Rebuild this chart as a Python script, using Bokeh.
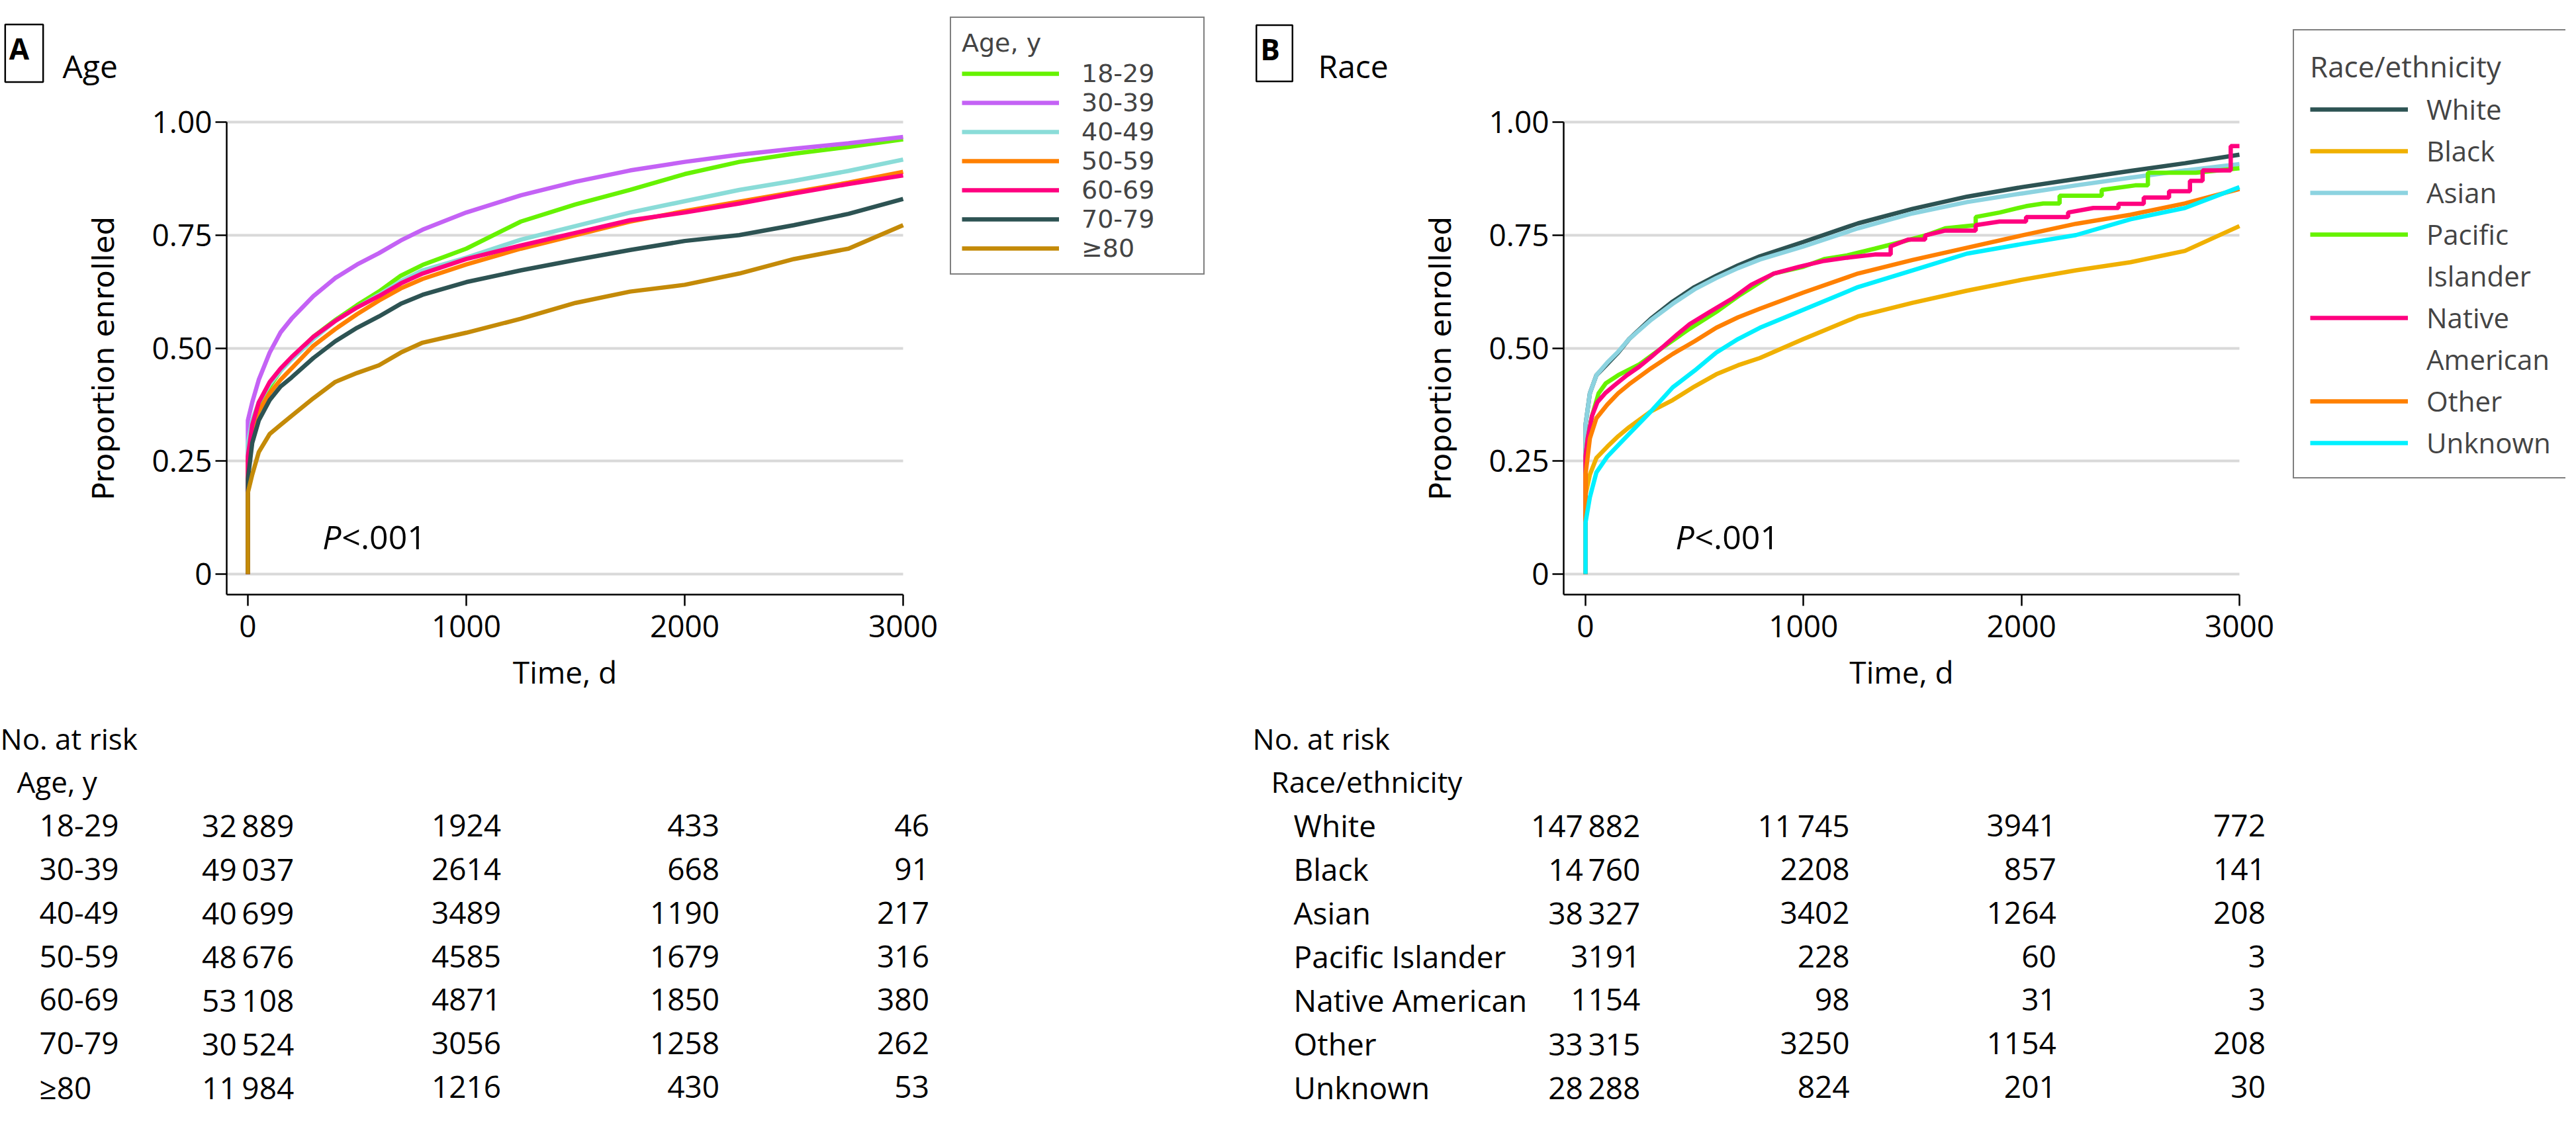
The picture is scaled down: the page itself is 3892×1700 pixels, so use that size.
from bokeh.plotting import figure
from bokeh.models import (Range1d, FixedTicker, Legend, LegendItem, Label,
                          ColumnDataSource, NumeralTickFormatter, Grid)
from bokeh.layouts import row
from bokeh.embed import file_html
from bokeh.resources import INLINE
from bokeh.core.properties import value

# ===================== DATA =====================
time_days = [0, 0, 20, 50, 100, 150, 200, 300, 400, 500, 600, 700, 800,
             1000, 1250, 1500, 1750, 2000, 2250, 2500, 2750, 3000]

age_labels = ["18-29", "30-39", "40-49", "50-59", "60-69", "70-79", "\u226580"]
enr_18_29 = [0, .27, .33, .375, .415, .45, .478, .525, .562, .595, .625, .66, .684,
             .72, .78, .818, .85, .885, .912, .93, .945, .962]
enr_30_39 = [0, .34, .38, .43, .49, .535, .565, .615, .655, .685, .71, .738, .762,
             .80, .838, .868, .893, .912, .928, .941, .953, .967]
enr_40_49 = [0, .29, .34, .38, .42, .45, .475, .52, .56, .59, .618, .648, .672,
             .70, .74, .77, .80, .825, .85, .87, .892, .917]
enr_50_59 = [0, .25, .31, .36, .40, .43, .455, .505, .542, .575, .605, .632, .653,
             .685, .72, .75, .78, .803, .824, .845, .866, .89]
enr_60_69 = [0, .26, .33, .38, .425, .455, .48, .525, .56, .59, .615, .643, .665,
             .697, .727, .755, .783, .80, .82, .842, .863, .882]
enr_70_79 = [0, .21, .29, .34, .385, .415, .435, .478, .515, .545, .57, .598, .618,
             .646, .672, .695, .717, .737, .75, .772, .797, .83]
enr_80_up = [0, .18, .22, .27, .31, .33, .35, .389, .425, .445, .462, .49, .512,
             .534, .565, .60, .625, .64, .665, .697, .72, .772]

race_labels = ["White", "Black", "Asian", "Pacific Islander", "Native American", "Other", "Unknown"]
enr_white = [0, .33, .40, .44, .465, .49, .52, .565, .603, .635, .66, .683, .703,
             .735, .776, .808, .835, .856, .874, .892, .909, .928]
enr_black = [0, .175, .22, .257, .282, .305, .325, .36, .385, .415, .442, .462, .478,
             .52, .57, .60, .627, .651, .672, .69, .715, .77]
enr_asian = [0, .33, .40, .44, .468, .492, .52, .562, .598, .63, .655, .677, .696,
             .725, .765, .798, .823, .842, .86, .877, .893, .907]
enr_other = [0, .22, .30, .345, .375, .40, .42, .455, .487, .515, .545, .568, .587,
             .623, .665, .695, .722, .749, .775, .795, .82, .852]
enr_unknown = [0, .114, .17, .225, .26, .285, .31, .36, .413, .45, .49, .52, .545,
               .585, .635, .672, .709, .73, .75, .785, .81, .856]
pacific_t = [0, 0, 10, 30, 60, 93, 150, 247, 350, 478, 600, 710, 864, 1000, 1095, 1200,
             1327, 1450, 1558, 1650, 1790, 1790, 1900, 2021, 2100, 2175, 2175, 2368, 2368,
             2522, 2580, 2580, 2800, 3000]
pacific_y = [0, .26, .30, .35, .40, .422, .44, .464, .50, .543, .58, .618, .665, .68, .697, .705,
             .72, .735, .749, .765, .772, .79, .80, .814, .82, .82, .837, .837, .85,
             .86, .86, .888, .888, .898]
native_t = [0, 0, 10, 30, 54, 90, 131, 190, 247, 300, 363, 420, 478, 570, 671, 760, 864, 980,
            1095, 1200, 1327, 1400, 1400, 1480, 1558, 1558, 1650, 1790, 1790, 1900, 2021,
            2021, 2214, 2214, 2330, 2445, 2445, 2561, 2561, 2677, 2677, 2773, 2773, 2831,
            2831, 2960, 2960, 3000]
native_y = [0, .26, .30, .35, .38, .40, .417, .44, .459, .48, .506, .53, .553, .58, .609, .64,
            .665, .68, .693, .70, .707, .707, .725, .74, .74, .749, .76, .76, .772, .78, .78,
            .79, .79, .80, .81, .81, .819, .819, .833, .833, .847, .847, .87, .87,
            .893, .893, .947, .947]

risk_times = [0, 1000, 2000, 3000]
risk_age = [
    [32889, 1924, 433, 46],
    [49037, 2614, 668, 91],
    [40699, 3489, 1190, 217],
    [48676, 4585, 1679, 316],
    [53108, 4871, 1850, 380],
    [30524, 3056, 1258, 262],
    [11984, 1216, 430, 53],
]
risk_race = [
    [147882, 11745, 3941, 772],
    [14760, 2208, 857, 141],
    [38327, 3402, 1264, 208],
    [3191, 228, 60, 3],
    [1154, 98, 31, 3],
    [33315, 3250, 1154, 208],
    [28288, 824, 201, 30],
]
y_ticks = [0, 0.25, 0.5, 0.75, 1.0]
y_tick_text = {0.0: "0", 0.25: "0.25", 0.5: "0.50", 0.75: "0.75", 1.0: "1.00"}
x_ticks = [0, 1000, 2000, 3000]

# ===================== STYLE / LAYOUT =====================
AGE_COLORS = ["#66F200", "#C462F5", "#8ADCD8", "#FF8000", "#FF007F", "#2D5353", "#C48A08"]
RACE_COLORS = {"White": "#2D5353", "Black": "#F0B000", "Asian": "#8CD3E0",
               "Pacific Islander": "#66F200", "Native American": "#FF007F",
               "Other": "#FF8000", "Unknown": "#00F0FF"}
FONT = "Open Sans"
LW = 6.5
PAGE_TOP = 8            # screenshot y of the figures' top edge
FIG_H = 1684
FIG_BOTTOM = PAGE_TOP + FIG_H
Y0_SY = 875             # screenshot y of proportion 0
Y1_SY = 192             # screenshot y of proportion 1
PPU = Y0_SY - Y1_SY
Y_BOTTOM = -(906 - Y0_SY) / PPU
ROW0_SY = 1123          # baseline of "No. at risk"
ROW_PITCH = 65.9


def fmt(n):
    return f"{n:,}".replace(",", "\u2009") if n >= 10000 else str(n)


def make_panel(width, fig_left, axis_sx, t0_sx, t3k_sx):
    k = (t3k_sx - t0_sx) / 3000.0
    t0_l = t0_sx - fig_left
    x_start, x_end = -t0_l / k, (width - t0_l) / k
    xmin = -(t0_sx - axis_sx) / k
    p = figure(width=width, height=FIG_H,
               x_range=Range1d(x_start, x_end),
               y_range=Range1d((Y0_SY - FIG_BOTTOM) / PPU, (Y0_SY - PAGE_TOP) / PPU),
               min_border=0, output_backend="svg", toolbar_location=None)
    p.outline_line_color = None
    p.xgrid.visible = False
    p.ygrid.ticker = FixedTicker(ticks=y_ticks)
    p.ygrid.grid_line_color = "#D9D9D9"
    p.ygrid.grid_line_width = 4
    if "cross_bounds" in Grid.properties():
        p.ygrid.cross_bounds = (xmin, 3000)
    else:
        p.ygrid.visible = False
        p.segment(x0=[xmin] * len(y_ticks), x1=[3000] * len(y_ticks), y0=y_ticks, y1=y_ticks,
                  line_color="#D9D9D9", line_width=4)
    p.yaxis.ticker = FixedTicker(ticks=y_ticks)
    p.yaxis.formatter = NumeralTickFormatter(format="0.00")
    p.yaxis.major_label_overrides = y_tick_text
    p.xaxis.ticker = FixedTicker(ticks=x_ticks)
    p.yaxis.fixed_location = xmin
    p.yaxis.bounds = (Y_BOTTOM, 1.0)
    p.xaxis.fixed_location = Y_BOTTOM
    p.xaxis.bounds = (xmin, 3000)
    for ax in (p.xaxis[0], p.yaxis[0]):
        ax.axis_line_width = 2.5
        ax.axis_line_color = "black"
        ax.major_tick_line_width = 2.5
        ax.major_tick_line_color = "black"
        ax.major_tick_in = 0
        ax.major_tick_out = 17
        ax.minor_tick_line_color = None
        ax.major_label_text_font = FONT
        ax.major_label_text_font_size = "46px"
        ax.major_label_text_color = "black"
        ax.axis_label_text_font_style = "normal"
        ax.axis_label_text_color = "black"
    p.yaxis.major_label_standoff = 5
    p.xaxis.major_label_standoff = 14
    p.yaxis.axis_label = "Proportion enrolled"
    p.yaxis.axis_label_text_font = "DejaVu Sans"
    p.yaxis.axis_label_text_font_size = "45px"
    p.yaxis.axis_label_standoff = 44
    p.xaxis.axis_label = "Time, d"
    p.xaxis.axis_label_text_font = FONT
    p.xaxis.axis_label_text_font_size = "46px"
    p.xaxis.axis_label_standoff = 18
    p.extra_y_ranges = {"tbl": Range1d((FIG_BOTTOM - ROW0_SY) / ROW_PITCH,
                                       (PAGE_TOP - ROW0_SY) / ROW_PITCH)}
    return p, x_start


def add_table(p, x_start, header2, row_labels, counts, offs):
    hs = ColumnDataSource(dict(x=[x_start, x_start], y=[0, 1], text=["No. at risk", header2],
                               xo=[offs[0], offs[1]]))
    p.text(x="x", y="y", text="text", x_offset="xo", source=hs, y_range_name="tbl",
           text_font=value(FONT), text_font_size="44px", text_color="black",
           text_align="left", text_baseline="alphabetic")
    ls = ColumnDataSource(dict(x=[x_start] * len(row_labels),
                               y=list(range(2, 2 + len(row_labels))), text=row_labels))
    p.text(x="x", y="y", text="text", x_offset=offs[2], source=ls, y_range_name="tbl",
           text_font=value(FONT), text_font_size="46px", text_color="black",
           text_align="left", text_baseline="alphabetic")
    xs, ys, txt, xo = [], [], [], []
    for ci, tm in enumerate(risk_times):
        col = [fmt(r[ci]) for r in counts]
        widest = max(sum(1 for ch in s if ch.isdigit()) * 26.3 + s.count("\u2009") * 8
                     for s in col)
        for ri, s in enumerate(col):
            xs.append(tm)
            ys.append(2 + ri)
            txt.append(s)
            xo.append(widest / 2.0)
    ns = ColumnDataSource(dict(x=xs, y=ys, text=txt, xo=xo))
    p.text(x="x", y="y", text="text", x_offset="xo", source=ns, y_range_name="tbl",
           text_font=value(FONT), text_font_size="46px", text_color="black",
           text_align="right", text_baseline="alphabetic")


def panel_tag(p, fig_left, letter, word, box_cx, word_sx, pad_h):
    p.add_layout(Label(x=box_cx - fig_left, y=FIG_BOTTOM - 88, x_units="screen", y_units="screen",
                       text=letter, text_font=FONT, text_font_size="44px",
                       text_font_style="bold", text_align="center", text_baseline="middle",
                       text_color="black", border_line_color="black", border_line_width=2.5,
                       padding=(6, pad_h, 6, pad_h)))
    p.add_layout(Label(x=word_sx - fig_left, y=FIG_BOTTOM - 107, x_units="screen",
                       y_units="screen", text=word, text_font=FONT, text_font_size="48px",
                       text_align="left", text_baseline="alphabetic", text_color="black"))


def p_value(p, x):
    p.add_layout(Label(x=x, y=0.083, text="P", text_font=FONT, text_font_size="50px",
                       text_font_style="italic", text_baseline="alphabetic", text_color="black"))
    p.add_layout(Label(x=x, y=0.083, x_offset=29, text="<.001", text_font=FONT,
                       text_font_size="50px", text_baseline="alphabetic", text_color="black"))


# ---------------- Panel A ----------------
A_LEFT = 8
pA, xsA = make_panel(1892, A_LEFT, 350, 382, 1372)
age_series = [enr_18_29, enr_30_39, enr_40_49, enr_50_59, enr_60_69, enr_70_79, enr_80_up]
itemsA = []
for lab, ys, c in zip(age_labels, age_series, AGE_COLORS):
    r = pA.line(time_days, ys, line_color=c, line_width=LW)
    itemsA.append(LegendItem(label=lab, renderers=[r]))
legA = Legend(items=itemsA, location=(1443 - A_LEFT, FIG_BOTTOM - 423), title="Age, y",
              title_text_font="DejaVu Sans", title_text_font_size="38px",
              title_text_font_style="normal", title_standoff=2,
              label_text_font="DejaVu Sans", label_text_font_size="38px",
              glyph_width=147, glyph_height=20, label_standoff=34, label_width=168,
              label_height=20, spacing=0, padding=16, margin=0,
              border_line_color="black", border_line_width=2.5,
              background_fill_color="white", background_fill_alpha=1.0)
pA.add_layout(legA)
panel_tag(pA, A_LEFT, "A", "Age", 44, 102, 21)
p_value(pA, 342)
add_table(pA, xsA, "Age, y", age_labels, risk_age, (0, 25, 59))

# ---------------- Panel B ----------------
B_LEFT = 1900
pB, xsB = make_panel(1984, B_LEFT, 2370, 2403, 3391)
rend = {}
smooth = {"White": enr_white, "Black": enr_black, "Asian": enr_asian}
for lab in ["White", "Black", "Asian"]:
    rend[lab] = pB.line(time_days, smooth[lab], line_color=RACE_COLORS[lab], line_width=LW)
rend["Pacific Islander"] = pB.line(pacific_t, pacific_y,
                                   line_color=RACE_COLORS["Pacific Islander"], line_width=LW)
rend["Native American"] = pB.line(native_t, native_y,
                                  line_color=RACE_COLORS["Native American"], line_width=LW)
rend["Other"] = pB.line(time_days, enr_other, line_color=RACE_COLORS["Other"], line_width=LW)
rend["Unknown"] = pB.line(time_days, enr_unknown, line_color=RACE_COLORS["Unknown"], line_width=LW)
blank = pB.line(x=[], y=[], line_alpha=0)
itemsB = []
for lab in race_labels:
    parts = lab.split(" ")
    itemsB.append(LegendItem(label=parts[0], renderers=[rend[lab]]))
    for extra in parts[1:]:
        itemsB.append(LegendItem(label=extra, renderers=[blank]))
legB = Legend(items=itemsB, location=(3472 - B_LEFT, FIG_BOTTOM - 731), title="Race/ethnicity",
              title_text_font=FONT, title_text_font_size="44px",
              title_text_font_style="normal", title_standoff=6,
              label_text_font=FONT, label_text_font_size="42px",
              glyph_width=148, glyph_height=20, label_standoff=28, label_width=196,
              label_height=20, spacing=6, padding=24, margin=0,
              border_line_color="black", border_line_width=2.5,
              background_fill_color="white", background_fill_alpha=1.0)
pB.add_layout(legB)
panel_tag(pB, B_LEFT, "B", "Race", 1933, 1999, 19)
p_value(pB, 413)
add_table(pB, xsB, "Race/ethnicity", race_labels, risk_race, (0, 28, 62))

layout = row(pA, pB)
open("out.html", "w").write(file_html(layout, INLINE))
